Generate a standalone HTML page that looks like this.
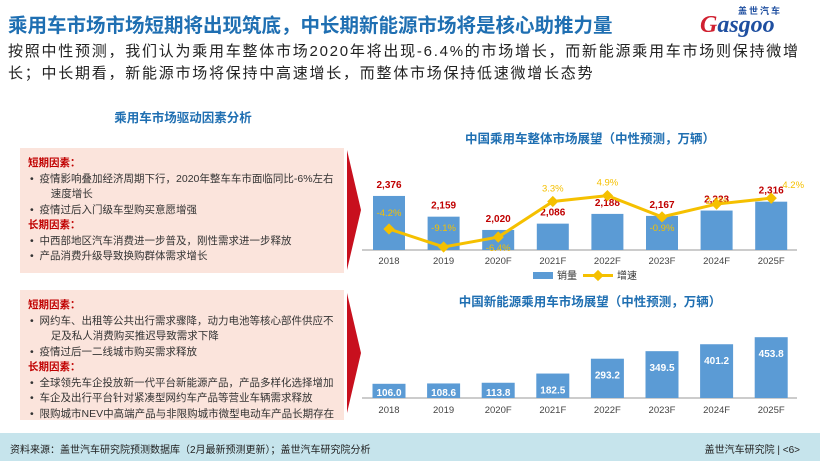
<!DOCTYPE html>
<html><head><meta charset="utf-8"><style>
body{margin:0;width:820px;height:461px;background:#fff;position:relative;overflow:hidden;font-family:"Liberation Sans","Noto Sans CJK SC",sans-serif}
.abs{position:absolute}
.box{position:absolute;left:20px;width:324px;background:#fbe4dc;font-size:10.5px;color:#333;line-height:15.5px;padding:8px 0 0 8px;box-sizing:border-box;white-space:nowrap}
.box .h{color:#c00000;font-weight:bold}
.box .li{padding-left:14px;text-indent:-12px}
.arrow{position:absolute;left:347px;width:0;height:0;border-left:14px solid #c8101e;border-top:60px solid transparent;border-bottom:60px solid transparent}
</style></head><body>
<div class="abs" style="left:8px;top:9px;font-size:19.5px;font-weight:bold;color:#1f6fb2;white-space:nowrap">乘用车市场市场短期将出现筑底，中长期新能源市场将是核心助推力量</div>
<div class="abs" style="left:700px;top:4px;width:112px;height:30px">
<div class="abs" style="left:38px;top:0;font-size:9px;font-weight:bold;color:#1f4fa0;letter-spacing:2px">盖世汽车</div>
<div class="abs" style="left:0;top:8px;font-family:'Liberation Serif',serif;font-size:24px;color:#1f4fa0;font-style:italic;font-weight:bold"><span style="color:#d02030">G</span>asgoo</div></div>
<div class="abs" style="left:8px;top:41px;width:812px;font-size:15px;letter-spacing:1.75px;line-height:22px;color:#222;white-space:nowrap">按照中性预测，我们认为乘用车整体市场2020年将出现-6.4%的市场增长，而新能源乘用车市场则保持微增<br>长；中长期看，新能源市场将保持中高速增长，而整体市场保持低速微增长态势</div>
<div class="abs" style="left:20px;width:326px;top:107px;text-align:center;font-size:12.5px;font-weight:bold;color:#1f6fb2">乘用车市场驱动因素分析</div>
<div class="box" style="top:148px;height:125px">
<div class="h">短期因素：</div>
<div class="li">• &nbsp;疫情影响叠加经济周期下行，2020年整车车市面临同比-6%左右<br>&nbsp;&nbsp;&nbsp;速度增长</div>
<div class="li">• &nbsp;疫情过后入门级车型购买意愿增强</div>
<div class="h">长期因素：</div>
<div class="li">• &nbsp;中西部地区汽车消费进一步普及，刚性需求进一步释放</div>
<div class="li">• &nbsp;产品消费升级导致换购群体需求增长</div></div>
<div class="arrow" style="top:150px"></div>
<div class="box" style="top:290px;height:130px">
<div class="h">短期因素：</div>
<div class="li">• &nbsp;网约车、出租等公共出行需求骤降，动力电池等核心部件供应不<br>&nbsp;&nbsp;&nbsp;足及私人消费购买推迟导致需求下降</div>
<div class="li">• &nbsp;疫情过后一二线城市购买需求释放</div>
<div class="h">长期因素：</div>
<div class="li">• &nbsp;全球领先车企投放新一代平台新能源产品，产品多样化选择增加</div>
<div class="li">• &nbsp;车企及出行平台针对紧凑型网约车产品等营业车辆需求释放</div>
<div class="li">• &nbsp;限购城市NEV中高端产品与非限购城市微型电动车产品长期存在</div></div>
<div class="arrow" style="top:293px"></div>
<svg class="abs" style="left:0;top:0" width="820" height="461" id="charts" font-family="Liberation Sans, Noto Sans CJK SC, sans-serif"></svg>
<div class="abs" style="left:0;top:433px;width:820px;height:28px;background:#c6e4ec;font-size:10px;color:#222">
<span class="abs" style="left:10px;top:8px">资料来源：盖世汽车研究院预测数据库（2月最新预测更新）；盖世汽车研究院分析</span>
<span class="abs" style="right:20px;top:8px">盖世汽车研究院 | &lt;6&gt;</span></div>
<script>
const years=["2018","2019","2020F","2021F","2022F","2023F","2024F","2025F"];
const sales=[2376,2159,2020,2086,2188,2167,2223,2316];
const growth=[-4.2,-9.1,-6.4,3.3,4.9,-0.9,2.6,4.2];
const nev=[106.0,108.6,113.8,182.5,293.2,349.5,401.2,453.8];
const NS="http://www.w3.org/2000/svg";
const svg=document.getElementById('charts');
function el(t,a,txt){const e=document.createElementNS(NS,t);for(const k in a)e.setAttribute(k,a[k]);if(txt!==undefined)e.textContent=txt;svg.appendChild(e);return e;}
const xc=i=>389+i*54.6;
const y1=v=>250-(v-1810)*0.0955;
const yg=g=>229-(g+4.2)*3.67;
let t=el('text',{x:590,y:143,'text-anchor':'middle','font-size':12.5,'font-weight':'bold',fill:'#1f6fb2'},'中国乘用车整体市场展望（中性预测，万辆）');


let ax=el('line',{x1:362,x2:797,y1:250,y2:250,stroke:'#999'});


sales.forEach((v,i)=>{
 const b=el('rect',{x:xc(i)-16,y:y1(v),width:32,height:250-y1(v),fill:'#5b9bd5'});
 
 
 const l=el('text',{x:xc(i),y:y1(v)-8,'text-anchor':'middle','font-size':10,'font-weight':'bold',fill:'#c00000'},v.toLocaleString('en-US'));
 
 
 const xl=el('text',{x:xc(i),y:264,'text-anchor':'middle','font-size':9.5,fill:'#444'},years[i]);
 
 
});
const pl=el('polyline',{points:growth.map((g,i)=>xc(i)+','+yg(g)).join(' '),fill:'none',stroke:'#f5c000','stroke-width':3});


growth.forEach((g,i)=>{
 const p=el('rect',{x:xc(i)-4,y:yg(g)-4,width:8,height:8,fill:'#f5c000',transform:`rotate(45 ${xc(i)} ${yg(g)})`});
 
 
 const off=g>=0?-10:(i==0?-13:(i==1?-16:14));
 const dx=i==7?22:0;
 const gl=el('text',{x:xc(i)+dx,y:yg(g)+off+(i==6?10:0),'text-anchor':'middle','font-size':9.5,fill:'#f5c000'},g.toFixed(1)+'%');
 
 
});
let lg=el('rect',{x:533,y:272,width:20,height:7,fill:'#5b9bd5'});


el('text',{x:557,y:279,'font-size':10,fill:'#333'},'销量');
let lg2=el('line',{x1:583,x2:613,y1:275.5,y2:275.5,stroke:'#f5c000','stroke-width':3});


el('rect',{x:594,y:271.5,width:8,height:8,fill:'#f5c000',transform:'rotate(45 598 275.5)'});
el('text',{x:617,y:279,'font-size':10,fill:'#333'},'增速');
const y2=v=>398-v*0.134;
t=el('text',{x:590,y:306,'text-anchor':'middle','font-size':12.5,'font-weight':'bold',fill:'#1f6fb2'},'中国新能源乘用车市场展望（中性预测，万辆）');


ax=el('line',{x1:362,x2:797,y1:398,y2:398,stroke:'#999'});


nev.forEach((v,i)=>{
 const b=el('rect',{x:xc(i)-16.5,y:y2(v),width:33,height:398-y2(v),fill:'#5b9bd5'});
 
 
 const ly=i<3?396:y2(v)+20;
 const l=el('text',{x:xc(i),y:ly,'text-anchor':'middle','font-size':10,'font-weight':'bold',fill:'#fff'},v.toFixed(1));
 
 
 const xl=el('text',{x:xc(i),y:413,'text-anchor':'middle','font-size':9.5,fill:'#444'},years[i]);
 
 
});
</script>
</body></html>
